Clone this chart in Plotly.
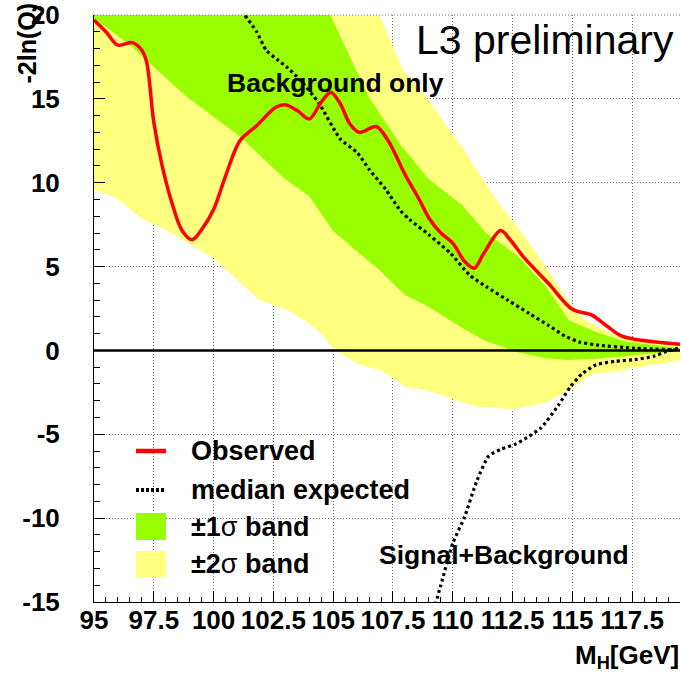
import plotly.graph_objects as go

# ---- data: -2ln(Q) versus Higgs mass hypothesis ----
mass_obs = [95.0, 95.5, 96.0, 96.6, 97.0, 97.2, 97.5, 97.85, 98.3, 98.7, 99.1, 99.5,
            100.0, 100.5, 101.1, 101.8, 102.6, 103.0, 103.5, 104.0, 104.5, 104.9,
            105.3, 105.7, 106.1, 106.8, 107.3, 108.0, 108.6, 109.0, 109.5, 110.0,
            110.5, 110.9, 111.3, 112.0, 112.4, 113.0, 114.0, 115.0, 115.8, 116.4,
            117.0, 117.5, 118.5, 119.5]
q_obs = [19.7, 19.0, 18.2, 18.35, 17.9, 17.2, 13.6, 11.0, 8.6, 7.1, 6.6, 7.2,
         8.4, 10.4, 12.5, 13.4, 14.5, 14.65, 14.3, 13.8, 14.8, 15.4,
         14.7, 13.5, 13.0, 13.35, 12.5, 10.5, 9.0, 7.9, 7.0, 6.4,
         5.3, 4.9, 5.8, 7.15, 6.6, 5.5, 4.0, 2.45, 2.12, 1.5,
         0.9, 0.7, 0.5, 0.37]

# median expected, background-only hypothesis
mass_exp_b = [101.0, 101.3, 101.8, 102.2, 102.7, 103.1, 103.7, 104.4, 105.3, 106.0,
              106.5, 107.2, 107.8, 108.2, 109.0, 109.9, 110.7, 111.4, 112.3, 113.2,
              114.0, 114.7, 115.3, 116.0, 117.6, 119.5]
q_exp_b = [20.5, 20.0, 19.0, 17.9, 17.3, 16.85, 16.0, 14.75, 12.6, 11.8,
           10.8, 9.6, 8.35, 7.8, 6.9, 5.8, 4.5, 3.8, 3.0, 2.2,
           1.5, 0.85, 0.5, 0.33, 0.13, 0.03]

# median expected, signal+background hypothesis
mass_exp_sb = [109.2, 109.5, 110.0, 110.5, 111.0, 111.5, 112.0, 112.6, 113.1, 113.7,
               114.4, 114.9, 115.4, 116.0, 116.8, 117.6, 118.4, 118.9, 119.5]
q_exp_sb = [-15.5, -14.0, -11.5, -9.9, -7.8, -6.3, -5.9, -5.6, -5.2, -4.6,
            -3.3, -2.2, -1.4, -0.85, -0.65, -0.55, -0.35, -0.08, 0.15]

# +/-1 sigma band edges
mass_1s_up = [95.0, 100.0, 104.0, 104.85, 105.7, 106.5, 107.8, 109.0, 110.4, 111.4,
              112.75, 113.9, 114.85, 116.0, 117.2, 118.9, 119.5]
q_1s_up = [32.0, 27.0, 22.7, 20.1, 17.5, 15.1, 12.3, 10.2, 8.65, 7.0,
           5.6, 3.8, 1.8, 1.1, 0.55, 0.23, 0.15]
mass_1s_lo = [95.0, 96.6, 97.3, 98.85, 101.1, 103.0, 104.0, 105.0, 106.1, 107.0,
              108.0, 109.0, 110.1, 111.3, 112.7, 113.8, 114.8, 116.0, 117.5, 118.5, 119.5]
q_1s_lo = [19.8, 18.1, 17.15, 15.15, 12.75, 10.2, 9.2, 7.1, 5.8, 4.7,
           3.3, 2.6, 1.6, 0.6, -0.1, -0.45, -0.57, -0.5, -0.3, -0.15, -0.05]

# +/-2 sigma band edges
mass_2s_up = [95.0, 100.0, 106.5, 106.93, 107.9, 108.9, 110.4, 111.3, 112.1, 112.6,
              113.7, 114.7, 115.5, 116.9, 118.0, 119.5]
q_2s_up = [34.0, 30.0, 21.4, 20.0, 16.8, 15.1, 12.1, 10.1, 8.4, 7.6,
           5.4, 3.2, 1.85, 0.85, 0.5, 0.3]
mass_2s_lo = [95.0, 95.9, 97.05, 98.0, 100.0, 101.9, 103.1, 104.0, 104.5, 105.0,
              106.1, 107.0, 108.0, 109.0, 110.1, 111.0, 112.5, 113.9, 114.9, 115.8,
              116.9, 117.5, 119.5]
q_2s_lo = [9.6, 9.1, 7.8, 7.2, 5.5, 3.0, 2.4, 1.6, 1.0, 0.1,
           -0.85, -1.2, -2.15, -2.4, -2.95, -3.35, -3.5, -3.1, -2.35, -1.4,
           -1.25, -1.05, -0.6]

x_tick_vals = [95, 97.5, 100, 102.5, 105, 107.5, 110, 112.5, 115, 117.5]
x_tick_text = ["95", "97.5", "100", "102.5", "105", "107.5", "110", "112.5", "115", "117.5"]
y_tick_vals = [-15, -10, -5, 0, 5, 10, 15, 20]
y_tick_text = ["-15", "-10", "-5", "0", "5", "10", "15", "20"]

legend_labels = ["Observed", "median expected",
                 "\u00b11<span style='font-weight:normal'>\u03c3</span> band",
                 "\u00b12<span style='font-weight:normal'>\u03c3</span> band"]

RED = "#ff0000"
GREEN = "#99ff00"
YELLOW = "#ffff80"
FONT = "Liberation Sans"

fig = go.Figure()

# bands: closed polygons from the upper edge and the reversed lower edge
fig.add_trace(go.Scatter(
    x=mass_2s_up + mass_2s_lo[::-1], y=q_2s_up + q_2s_lo[::-1],
    fill="toself", fillcolor=YELLOW, mode="none", hoverinfo="skip", showlegend=False))
fig.add_trace(go.Scatter(
    x=mass_1s_up + mass_1s_lo[::-1], y=q_1s_up + q_1s_lo[::-1],
    fill="toself", fillcolor=GREEN, mode="none", hoverinfo="skip", showlegend=False))

# expected curves
fig.add_trace(go.Scatter(x=mass_exp_b, y=q_exp_b, mode="lines",
                         line=dict(color="black", width=3.2, dash="3px,3px", shape="spline", smoothing=0.6),
                         showlegend=False))
fig.add_trace(go.Scatter(x=mass_exp_sb, y=q_exp_sb, mode="lines",
                         line=dict(color="black", width=3.2, dash="3px,3px", shape="spline", smoothing=0.6),
                         showlegend=False))

# observed
fig.add_trace(go.Scatter(x=mass_obs, y=q_obs, mode="lines",
                         line=dict(color=RED, width=3.5, shape="spline", smoothing=0.9),
                         showlegend=False))

# plot-area geometry in pixels (for the hand-made legend)
W, H = 681, 675
ML, MR, MT, MB = 94, 1, 15, 73
PW, PH = W - ML - MR, H - MT - MB


def px(xp):
    return (xp - ML) / PW


def py(yp):
    return (H - MB - yp) / PH


shapes = []
# horizontal zero line drawn over the bands
shapes.append(dict(type="line", xref="x domain", yref="y", x0=0, x1=1, y0=0, y1=0,
                   line=dict(color="black", width=2.5), layer="above"))
# top frame
shapes.append(dict(type="line", xref="paper", yref="paper", x0=0, x1=1, y0=1, y1=1,
                   line=dict(color="#777", width=1, dash="1px,2px"), layer="above"))

# legend glyphs
row_y = [451, 490, 526.5, 564]
shapes.append(dict(type="line", xref="paper", yref="paper", x0=px(136), x1=px(166),
                   y0=py(row_y[0]), y1=py(row_y[0]), line=dict(color=RED, width=4.5)))
shapes.append(dict(type="line", xref="paper", yref="paper", x0=px(136), x1=px(166),
                   y0=py(row_y[1]), y1=py(row_y[1]), line=dict(color="black", width=4, dash="3px,2px")))
shapes.append(dict(type="rect", xref="paper", yref="paper", x0=px(136), x1=px(166),
                   y0=py(540), y1=py(513), fillcolor=GREEN, line=dict(width=0)))
shapes.append(dict(type="rect", xref="paper", yref="paper", x0=px(136), x1=px(166),
                   y0=py(577), y1=py(551), fillcolor=YELLOW, line=dict(width=0)))

annotations = []
for lbl, ry in zip(legend_labels, row_y):
    annotations.append(dict(text=lbl, xref="paper", yref="paper", x=px(189), y=py(ry),
                            xanchor="left", yanchor="middle", showarrow=False,
                            font=dict(family=FONT, size=27, color="black", weight="bold")))

annotations += [
    dict(text="L3 preliminary", xref="paper", yref="paper", x=px(676), y=py(40),
         xanchor="right", yanchor="middle", showarrow=False,
         font=dict(family=FONT, size=41, color="black")),
    dict(text="Background only", xref="paper", yref="paper", x=px(225), y=py(83),
         xanchor="left", yanchor="middle", showarrow=False,
         font=dict(family=FONT, size=26.5, color="black", weight="bold")),
    dict(text="Signal+Background", xref="paper", yref="paper", x=px(377), y=py(555),
         xanchor="left", yanchor="middle", showarrow=False,
         font=dict(family=FONT, size=26.5, color="black", weight="bold")),
    dict(text="M<sub>H</sub>[GeV]", xref="paper", yref="paper", x=px(681), y=py(656),
         xanchor="right", yanchor="middle", showarrow=False,
         font=dict(family=FONT, size=26, color="black", weight="bold")),
    dict(text="-2ln(Q)", xref="paper", yref="paper", x=px(27), y=py(1),
         xanchor="center", yanchor="top", textangle=-90, showarrow=False,
         font=dict(family=FONT, size=25, color="black", weight="bold")),
]

axis_common = dict(
    showline=True, linecolor="black", linewidth=1,
    ticks="inside", tickcolor="black", tickwidth=1,
    showgrid=True, gridcolor="#666", gridwidth=1, griddash="1px,2px",
    zeroline=False,
    tickfont=dict(family=FONT, size=26, color="black", weight="bold"),
)

fig.update_xaxes(range=[95, 119.5], tickvals=x_tick_vals, ticktext=x_tick_text,
                 ticklen=11, ticklabelstandoff=-5,
                 minor=dict(dtick=0.5, tick0=95, ticks="inside", ticklen=5.5,
                            tickcolor="black", showgrid=False),
                 **axis_common)
fig.update_yaxes(range=[-15, 20], tickvals=y_tick_vals, ticktext=y_tick_text,
                 ticklen=11, ticklabelstandoff=28,
                 minor=dict(dtick=1, tick0=0, ticks="inside", ticklen=5.5,
                            tickcolor="black", showgrid=False),
                 **axis_common)

fig.update_layout(
    width=W, height=H,
    margin=dict(l=ML, r=MR, t=MT, b=MB, pad=0),
    paper_bgcolor="white", plot_bgcolor="white",
    showlegend=False,
    shapes=shapes, annotations=annotations,
)

fig.write_html("out.html")
